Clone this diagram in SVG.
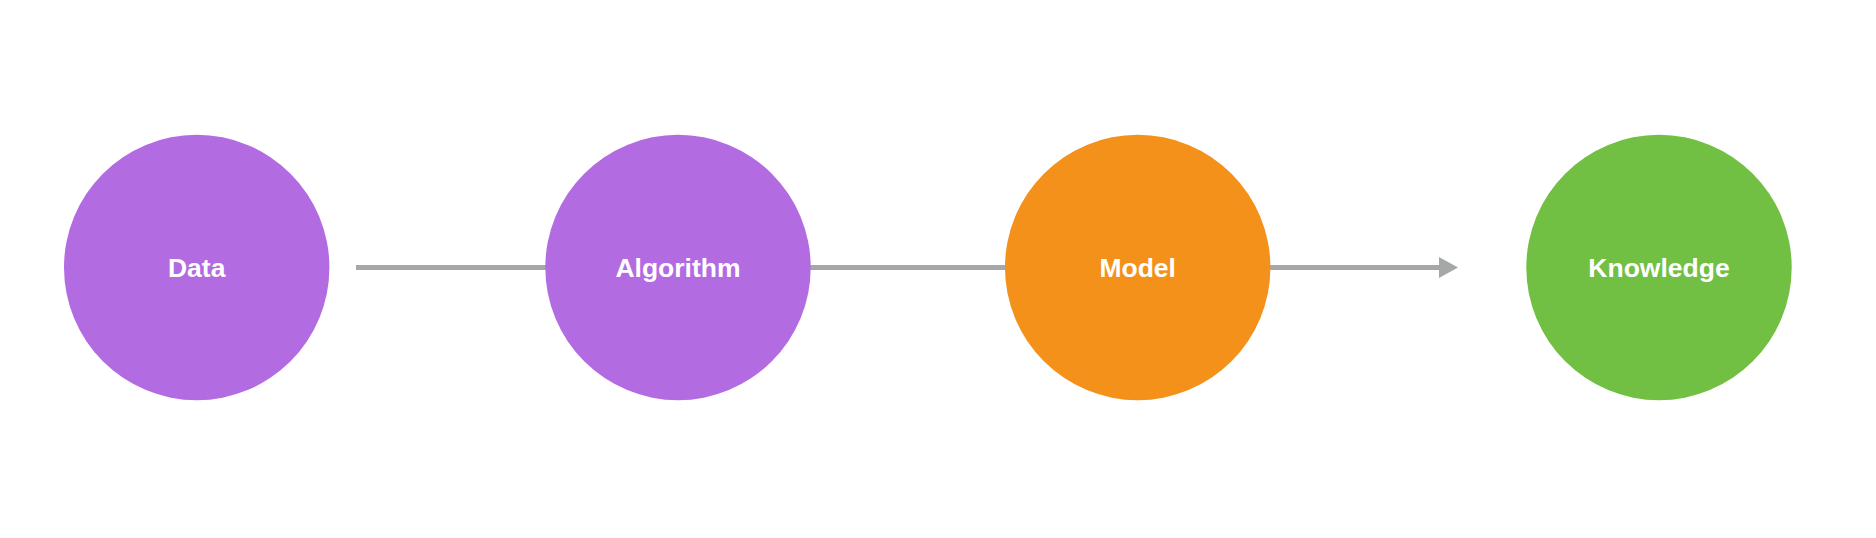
<svg xmlns="http://www.w3.org/2000/svg" width="1876" height="538" viewBox="0 0 1876 538">
<style>
.lbl{font-family:"Liberation Sans",Arial,Helvetica,sans-serif;font-weight:bold;font-size:26.5px;fill:#ffffff;text-anchor:middle}
.conn{stroke:#a5a8a6;stroke-width:5;fill:none}
</style>
<rect width="1876" height="538" fill="#ffffff"/>
<g id="connectors">
<line class="conn" x1="356" y1="267.5" x2="1441" y2="267.5"/>
<polygon points="1439,257 1458,267.5 1439,278" fill="#a5a8a6"/>
</g>
<g id="node-data">
<circle cx="196.7" cy="267.5" r="132.7" fill="#b36be2"/>
<text class="lbl" x="196.7" y="277">Data</text>
</g>
<g id="node-algorithm">
<circle cx="678" cy="267.5" r="132.7" fill="#b36be2"/>
<text class="lbl" x="678" y="277">Algorithm</text>
</g>
<g id="node-model">
<circle cx="1137.7" cy="267.5" r="132.7" fill="#f3911a"/>
<text class="lbl" x="1137.7" y="277">Model</text>
</g>
<g id="node-knowledge">
<circle cx="1659" cy="267.5" r="132.7" fill="#71bf43"/>
<text class="lbl" x="1659" y="277">Knowledge</text>
</g>
</svg>
